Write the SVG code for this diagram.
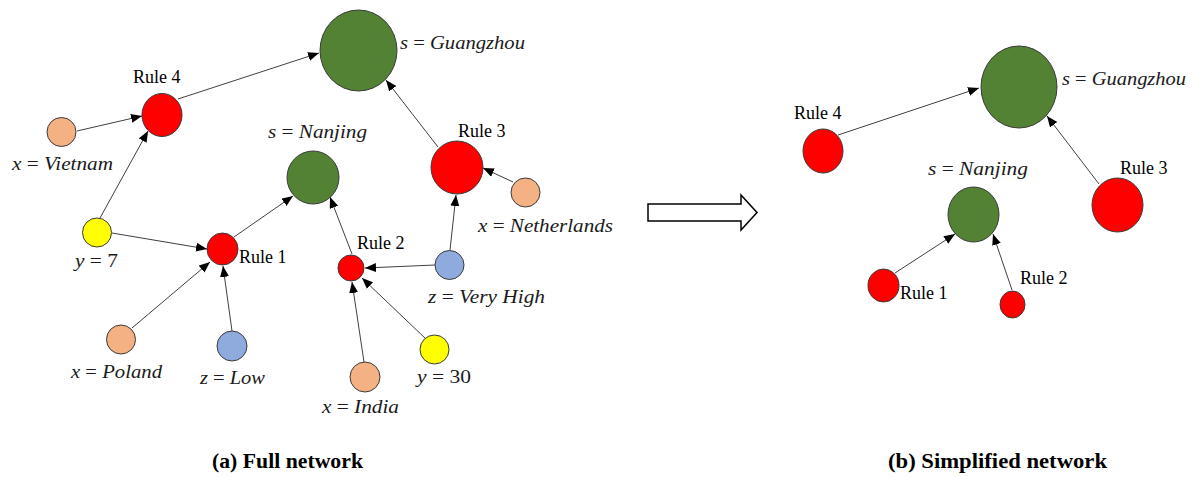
<svg xmlns="http://www.w3.org/2000/svg" width="1193" height="477" viewBox="0 0 1193 477">
<style>
.n{stroke:#3a3a3a;stroke-width:1}
.g{fill:#548235}.r{fill:#ff0000}.o{fill:#f4b183}.y{fill:#ffff00}.b{fill:#8faadc}
.e{stroke:#404040;stroke-width:1;fill:none;marker-end:url(#ah)}
.rule{font-family:"Liberation Serif","Times New Roman",serif;font-size:18px;fill:#000}
.m{font-family:"Liberation Serif","Times New Roman",serif;font-size:18px;font-style:italic;fill:#1a1a1a}
.m tspan.u{font-style:normal}
.cap{font-family:"Liberation Serif","Times New Roman",serif;font-size:20px;font-weight:bold;fill:#000}
</style>
<defs>
<marker id="ah" markerUnits="userSpaceOnUse" markerWidth="12" markerHeight="10" refX="11" refY="4.5" orient="auto">
<path d="M0,0 L11,4.5 L0,9 z" fill="#000"/>
</marker>
</defs>
<rect width="1193" height="477" fill="#fff"/>

<g id="connectors">
<line class="e" x1="77" y1="131" x2="142" y2="116"/>
<line class="e" x1="178" y1="99" x2="319" y2="53"/>
<line class="e" x1="100" y1="218" x2="148" y2="131"/>
<line class="e" x1="438" y1="147" x2="386" y2="80"/>
<line class="e" x1="513" y1="182" x2="483" y2="168"/>
<line class="e" x1="450" y1="250" x2="456" y2="195"/>
<line class="e" x1="112" y1="233" x2="207" y2="249"/>
<line class="e" x1="132" y1="328" x2="210" y2="262"/>
<line class="e" x1="232" y1="331" x2="223" y2="266"/>
<line class="e" x1="234" y1="237" x2="293" y2="196"/>
<line class="e" x1="352" y1="254" x2="330" y2="197"/>
<line class="e" x1="435" y1="265" x2="365" y2="268"/>
<line class="e" x1="364" y1="362" x2="352" y2="282"/>
<line class="e" x1="426" y1="339" x2="362" y2="278"/>
<line class="e" x1="838" y1="135" x2="979" y2="88"/>
<line class="e" x1="1099" y1="184" x2="1047" y2="116"/>
<line class="e" x1="895" y1="273" x2="955" y2="234"/>
<line class="e" x1="1012" y1="290" x2="993" y2="234"/>
</g>

<!-- Left panel -->
<g id="a-guangzhou">
<ellipse class="n g" cx="358.5" cy="50.5" rx="38.5" ry="40.5"/>
<text class="m" x="400" y="49" textLength="125" lengthAdjust="spacingAndGlyphs">s <tspan class="u">=</tspan> Guangzhou</text>
</g>
<g id="a-rule4">
<ellipse class="n r" cx="162" cy="115" rx="20" ry="21.5"/>
<text class="rule" x="133" y="83">Rule 4</text>
</g>
<g id="a-vietnam">
<circle class="n o" cx="61.5" cy="132" r="14.5"/>
<text class="m" x="12" y="170" textLength="101" lengthAdjust="spacingAndGlyphs">x <tspan class="u">=</tspan> Vietnam</text>
</g>
<g id="a-nanjing">
<ellipse class="n g" cx="313" cy="177.5" rx="26" ry="26.5"/>
<text class="m" x="268" y="138" textLength="99" lengthAdjust="spacingAndGlyphs">s <tspan class="u">=</tspan> Nanjing</text>
</g>
<g id="a-rule3">
<ellipse class="n r" cx="457" cy="167.5" rx="26" ry="26.5"/>
<text class="rule" x="458" y="137">Rule 3</text>
</g>
<g id="a-netherlands">
<circle class="n o" cx="525.5" cy="192.5" r="14.5"/>
<text class="m" x="478" y="232" textLength="135" lengthAdjust="spacingAndGlyphs">x <tspan class="u">=</tspan> Netherlands</text>
</g>
<g id="a-y7">
<circle class="n y" cx="97" cy="232.5" r="14.5"/>
<text class="m" x="75" y="267" textLength="43" lengthAdjust="spacingAndGlyphs">y <tspan class="u">= 7</tspan></text>
</g>
<g id="a-rule1">
<ellipse class="n r" cx="222.5" cy="249" rx="15.5" ry="16"/>
<text class="rule" x="239" y="263">Rule 1</text>
</g>
<g id="a-poland">
<circle class="n o" cx="121" cy="339.5" r="14.5"/>
<text class="m" x="71" y="378" textLength="91" lengthAdjust="spacingAndGlyphs">x <tspan class="u">=</tspan> Poland</text>
</g>
<g id="a-low">
<circle class="n b" cx="232" cy="346" r="15"/>
<text class="m" x="200" y="384" textLength="65" lengthAdjust="spacingAndGlyphs">z <tspan class="u">=</tspan> Low</text>
</g>
<g id="a-rule2">
<circle class="n r" cx="351" cy="268" r="13"/>
<text class="rule" x="357" y="249">Rule 2</text>
</g>
<g id="a-veryhigh">
<circle class="n b" cx="449.5" cy="265" r="14.5"/>
<text class="m" x="428" y="303" textLength="117" lengthAdjust="spacingAndGlyphs">z <tspan class="u">=</tspan> Very High</text>
</g>
<g id="a-y30">
<circle class="n y" cx="434.5" cy="349.5" r="14.5"/>
<text class="m" x="417" y="383" textLength="54" lengthAdjust="spacingAndGlyphs">y <tspan class="u">= 30</tspan></text>
</g>
<g id="a-india">
<circle class="n o" cx="365" cy="377" r="15"/>
<text class="m" x="322" y="413" textLength="77" lengthAdjust="spacingAndGlyphs">x <tspan class="u">=</tspan> India</text>
</g>

<!-- Transition arrow -->
<g id="transition">
<polygon points="648,204 741,204 741,195 757,212.5 741,230 741,221 648,221" fill="#fff" stroke="#000" stroke-width="1.5"/>
</g>

<!-- Right panel -->
<g id="b-guangzhou">
<ellipse class="n g" cx="1019" cy="87" rx="38" ry="41"/>
<text class="m" x="1062" y="85" textLength="124" lengthAdjust="spacingAndGlyphs">s <tspan class="u">=</tspan> Guangzhou</text>
</g>
<g id="b-rule4">
<ellipse class="n r" cx="823" cy="151" rx="20" ry="22"/>
<text class="rule" x="794" y="119">Rule 4</text>
</g>
<g id="b-rule3">
<ellipse class="n r" cx="1117.5" cy="205" rx="25.5" ry="27"/>
<text class="rule" x="1120" y="174">Rule 3</text>
</g>
<g id="b-nanjing">
<ellipse class="n g" cx="973.5" cy="214.5" rx="25.5" ry="27.5"/>
<text class="m" x="928" y="175" textLength="100" lengthAdjust="spacingAndGlyphs">s <tspan class="u">=</tspan> Nanjing</text>
</g>
<g id="b-rule1">
<ellipse class="n r" cx="883.5" cy="285.5" rx="15.5" ry="16.5"/>
<text class="rule" x="900" y="299">Rule 1</text>
</g>
<g id="b-rule2">
<ellipse class="n r" cx="1012.5" cy="304.5" rx="12.5" ry="13.5"/>
<text class="rule" x="1020" y="284">Rule 2</text>
</g>

<g id="captions">
<text class="cap" x="212" y="468" textLength="151" lengthAdjust="spacingAndGlyphs">(a) Full network</text>
<text class="cap" x="888" y="468" textLength="219" lengthAdjust="spacingAndGlyphs">(b) Simplified network</text>
</g>
</svg>
